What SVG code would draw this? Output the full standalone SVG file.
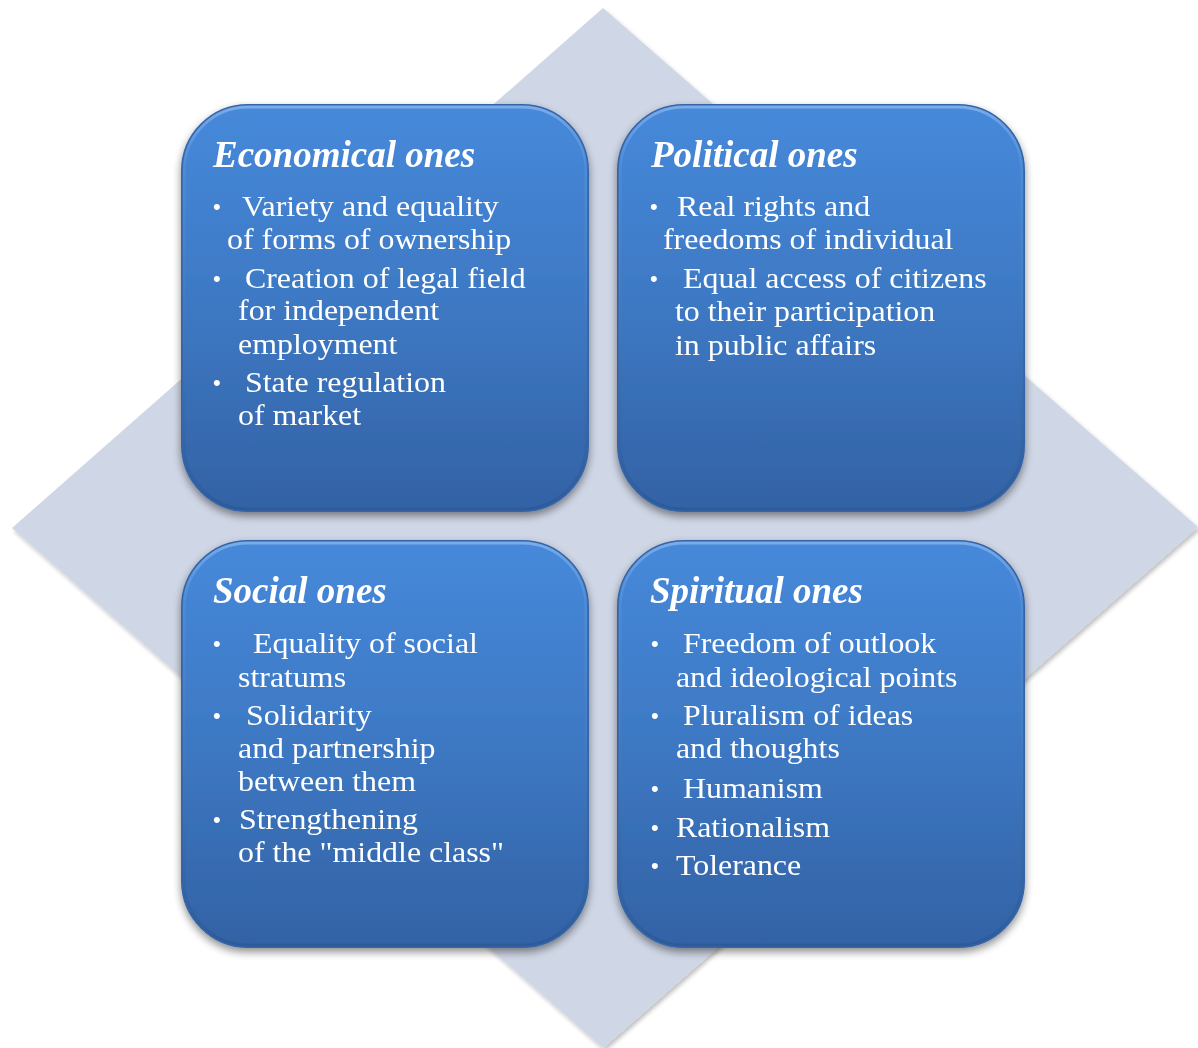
<svg xmlns="http://www.w3.org/2000/svg" width="1198" height="1048" viewBox="0 0 1198 1048">
  <defs>
    <linearGradient id="boxGrad" x1="0" y1="0" x2="0" y2="1">
      <stop offset="0" stop-color="#4689da"/>
      <stop offset="0.5" stop-color="#3d78c3"/>
      <stop offset="1" stop-color="#3362a5"/>
    </linearGradient>
    <linearGradient id="rimGrad" x1="0" y1="0" x2="0" y2="1">
      <stop offset="0" stop-color="#7fb0ec" stop-opacity="0.9"/>
      <stop offset="0.15" stop-color="#5c97df" stop-opacity="0.4"/>
      <stop offset="1" stop-color="#2a5590" stop-opacity="0.6"/>
    </linearGradient>
    <filter id="shadow" x="-10%" y="-10%" width="120%" height="125%">
      <feGaussianBlur in="SourceAlpha" stdDeviation="4"/>
      <feOffset dx="0" dy="4" result="b"/>
      <feComponentTransfer><feFuncA type="linear" slope="0.45"/></feComponentTransfer>
      <feMerge><feMergeNode/><feMergeNode in="SourceGraphic"/></feMerge>
    </filter>
    <filter id="dshadow" x="-5%" y="-5%" width="110%" height="110%">
      <feGaussianBlur in="SourceAlpha" stdDeviation="2"/>
      <feOffset dx="2" dy="3"/>
      <feComponentTransfer><feFuncA type="linear" slope="0.25"/></feComponentTransfer>
      <feMerge><feMergeNode/><feMergeNode in="SourceGraphic"/></feMerge>
    </filter>
  </defs>
  <style>
    .box { fill: url(#boxGrad); stroke: #3465a8; stroke-width: 2; }
    .rim { fill: none; stroke: url(#rimGrad); stroke-width: 3; }
    .title { font-family: "Liberation Serif", "Times New Roman", serif; font-weight: bold; font-style: italic; font-size: 37px; fill: #ffffff; }
    .item { font-family: "Liberation Serif", "Times New Roman", serif; font-size: 29px; fill: #ffffff; }
    .bul { font-family: "Liberation Sans", Arial, sans-serif; font-size: 22px; fill: #ffffff; }
  </style>

  <rect width="1198" height="1048" fill="#ffffff"/>
  <polygon id="diamond" points="603,8 1198,527 603,1048 12,528" fill="#cfd6e5" filter="url(#dshadow)"/>

  <g id="economical" filter="url(#shadow)">
    <rect class="box" x="182" y="105" width="406" height="406" rx="66" ry="66"/>
    <rect class="rim" x="184" y="107" width="402" height="402" rx="64" ry="64"/>
    <text class="title" x="213" y="167">Economical ones</text>
    <text class="bul" x="213" y="214">•</text>
    <text class="bul" x="213" y="286">•</text>
    <text class="bul" x="213" y="390">•</text>
    <g transform="scale(1.1,1)">
      <text class="item" x="220" y="216">Variety and equality</text>
      <text class="item" x="206.4" y="249">of  forms of ownership</text>
      <text class="item" x="222.7" y="288">Creation of legal field</text>
      <text class="item" x="216.4" y="320">for independent</text>
      <text class="item" x="216.4" y="354">employment</text>
      <text class="item" x="222.7" y="392">State regulation</text>
      <text class="item" x="216.4" y="425">of market</text>
    </g>
  </g>

  <g id="political" filter="url(#shadow)">
    <rect class="box" x="618" y="105" width="406" height="406" rx="66" ry="66"/>
    <rect class="rim" x="620" y="107" width="402" height="402" rx="64" ry="64"/>
    <text class="title" x="651" y="167">Political ones</text>
    <text class="bul" x="650" y="214">•</text>
    <text class="bul" x="650" y="286">•</text>
    <g transform="scale(1.1,1)">
      <text class="item" x="615.5" y="216">Real rights and</text>
      <text class="item" x="602.7" y="249">freedoms of individual</text>
      <text class="item" x="620.9" y="288">Equal access of citizens</text>
      <text class="item" x="613.6" y="321">to their participation</text>
      <text class="item" x="613.6" y="355">in public affairs</text>
    </g>
  </g>

  <g id="social" filter="url(#shadow)">
    <rect class="box" x="182" y="541" width="406" height="406" rx="66" ry="66"/>
    <rect class="rim" x="184" y="543" width="402" height="402" rx="64" ry="64"/>
    <text class="title" x="213" y="603">Social ones</text>
    <text class="bul" x="213" y="651">•</text>
    <text class="bul" x="213" y="723">•</text>
    <text class="bul" x="213" y="827">•</text>
    <g transform="scale(1.1,1)">
      <text class="item" x="230" y="653">Equality of social</text>
      <text class="item" x="216.4" y="687">stratums</text>
      <text class="item" x="223.6" y="725">Solidarity</text>
      <text class="item" x="216.4" y="758">and partnership</text>
      <text class="item" x="216.4" y="791">between them</text>
      <text class="item" x="217.3" y="829">Strengthening</text>
      <text class="item" x="216.4" y="862">of the "middle class"</text>
    </g>
  </g>

  <g id="spiritual" filter="url(#shadow)">
    <rect class="box" x="618" y="541" width="406" height="406" rx="66" ry="66"/>
    <rect class="rim" x="620" y="543" width="402" height="402" rx="64" ry="64"/>
    <text class="title" x="650" y="603">Spiritual ones</text>
    <text class="bul" x="651" y="651">•</text>
    <text class="bul" x="651" y="723">•</text>
    <text class="bul" x="651" y="796">•</text>
    <text class="bul" x="651" y="835">•</text>
    <text class="bul" x="651" y="873">•</text>
    <g transform="scale(1.1,1)">
      <text class="item" x="620.9" y="653">Freedom of outlook</text>
      <text class="item" x="614.5" y="687">and ideological points</text>
      <text class="item" x="620.9" y="725">Pluralism of ideas</text>
      <text class="item" x="614.5" y="758">and thoughts</text>
      <text class="item" x="620.9" y="798">Humanism</text>
      <text class="item" x="614.5" y="837">Rationalism</text>
      <text class="item" x="614.5" y="875">Tolerance</text>
    </g>
  </g>

  <g id="connectors"></g>
</svg>
